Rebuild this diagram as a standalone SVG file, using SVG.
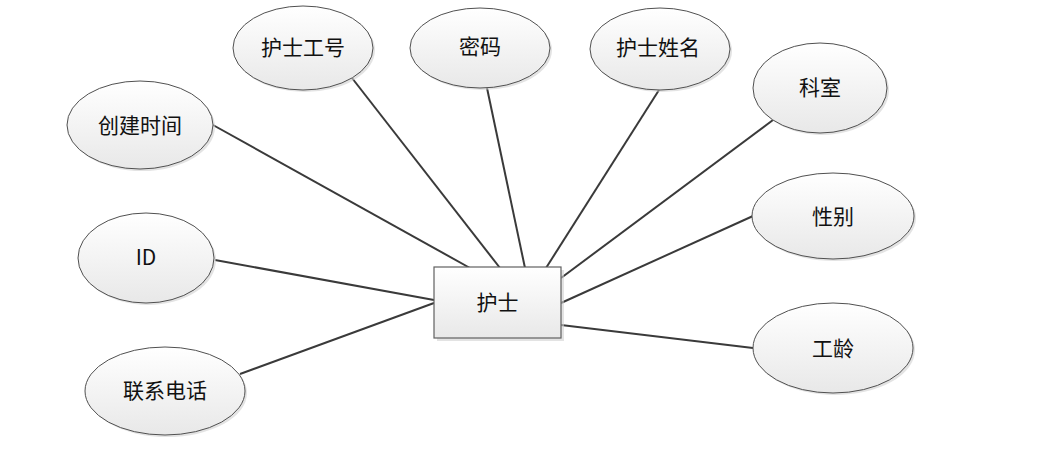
<svg xmlns="http://www.w3.org/2000/svg" width="1040" height="454" viewBox="0 0 1040 454">
<defs>
<linearGradient id="g" x1="0" y1="0" x2="0" y2="1">
<stop offset="0" stop-color="#ffffff"/>
<stop offset="1" stop-color="#e8e8e8"/>
</linearGradient>
</defs>
<style>
.sh{fill:#d0d0d0;opacity:0.6}
.e{fill:url(#g);stroke:#505050;stroke-width:1}
.r{fill:url(#g);stroke:#606060;stroke-width:1.2}
.t{font-family:"Noto Sans CJK SC","Liberation Sans",sans-serif;font-size:21px;fill:#111;text-anchor:middle;dominant-baseline:central}
.c line{stroke:#3a3a3a;stroke-width:2}
</style>
<rect width="1040" height="454" fill="#fff"/>
<g class="c">
<line x1="213" y1="125" x2="470" y2="268"/>
<line x1="352" y1="78" x2="500" y2="268"/>
<line x1="487" y1="88" x2="525" y2="268"/>
<line x1="659" y1="90" x2="546" y2="268"/>
<line x1="773" y1="120" x2="561" y2="278"/>
<line x1="753" y1="216" x2="561" y2="303"/>
<line x1="753" y1="348" x2="561" y2="325"/>
<line x1="215" y1="260" x2="434" y2="300"/>
<line x1="240" y1="374" x2="434" y2="303"/>
</g>
<g id="nurse">
<rect class="sh" x="437" y="270" width="127" height="71"/>
<rect class="r" x="434" y="267" width="127" height="71"/>
<text class="t" x="497.5" y="301">护士</text>
</g>
<g id="createtime">
<ellipse class="sh" cx="142" cy="127" rx="73" ry="44"/>
<ellipse class="e" cx="140" cy="125" rx="73" ry="44"/>
<text class="t" x="140" y="124">创建时间</text>
</g>
<g id="nurseno">
<ellipse class="sh" cx="305" cy="50" rx="70" ry="42"/>
<ellipse class="e" cx="303" cy="48" rx="70" ry="42"/>
<text class="t" x="303" y="46">护士工号</text>
</g>
<g id="password">
<ellipse class="sh" cx="482" cy="50" rx="70" ry="40"/>
<ellipse class="e" cx="480" cy="48" rx="70" ry="40"/>
<text class="t" x="480" y="45">密码</text>
</g>
<g id="nursename">
<ellipse class="sh" cx="662" cy="51" rx="70" ry="41"/>
<ellipse class="e" cx="660" cy="49" rx="70" ry="41"/>
<text class="t" x="658" y="46">护士姓名</text>
</g>
<g id="dept">
<ellipse class="sh" cx="822" cy="90" rx="67" ry="45"/>
<ellipse class="e" cx="820" cy="88" rx="67" ry="45"/>
<text class="t" x="820" y="86">科室</text>
</g>
<g id="gender">
<ellipse class="sh" cx="835" cy="218" rx="81" ry="43"/>
<ellipse class="e" cx="833" cy="216" rx="81" ry="43"/>
<text class="t" x="833" y="215">性别</text>
</g>
<g id="seniority">
<ellipse class="sh" cx="835" cy="350" rx="80" ry="45"/>
<ellipse class="e" cx="833" cy="348" rx="80" ry="45"/>
<text class="t" x="833" y="347">工龄</text>
</g>
<g id="id">
<ellipse class="sh" cx="148" cy="260" rx="68" ry="45"/>
<ellipse class="e" cx="146" cy="258" rx="68" ry="45"/>
<text class="t" x="146" y="256">ID</text>
</g>
<g id="phone">
<ellipse class="sh" cx="167" cy="393" rx="80" ry="44"/>
<ellipse class="e" cx="165" cy="391" rx="80" ry="44"/>
<text class="t" x="165" y="389">联系电话</text>
</g>
</svg>
